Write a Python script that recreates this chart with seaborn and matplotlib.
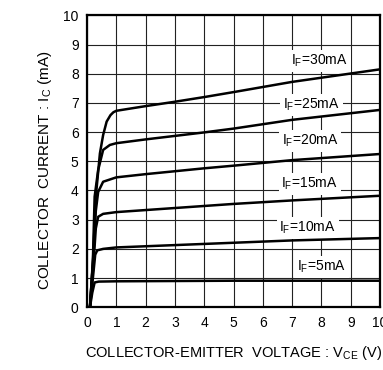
import numpy as np
import pandas as pd
import matplotlib
matplotlib.use("Agg")
import matplotlib.pyplot as plt
import seaborn as sns

# Output characteristics: collector current vs. collector-emitter voltage
# for several forward currents.
vce_5 = [0.10, 0.18, 0.26, 0.40, 1.0, 3.0, 5.0, 7.0, 10.0]
ic_5 = [0.00, 0.50, 0.85, 0.88, 0.89, 0.90, 0.91, 0.91, 0.91]

vce_10 = [0.10, 0.20, 0.28, 0.35, 0.55, 1.0, 2.0, 3.0, 4.0, 5.0, 7.0, 10.0]
ic_10 = [0.00, 1.00, 1.80, 1.95, 2.00, 2.05, 2.09, 2.13, 2.17, 2.21, 2.29, 2.37]

vce_15 = [0.10, 0.22, 0.30, 0.38, 0.55, 1.0, 2.0, 3.0, 4.0, 5.0, 7.0, 10.0]
ic_15 = [0.00, 1.50, 2.70, 3.10, 3.20, 3.26, 3.33, 3.40, 3.47, 3.54, 3.66, 3.82]

vce_20 = [0.10, 0.22, 0.30, 0.38, 0.55, 1.0, 2.0, 3.0, 4.0, 5.0, 7.0, 10.0]
ic_20 = [0.00, 1.80, 3.30, 3.95, 4.30, 4.45, 4.56, 4.66, 4.76, 4.85, 5.04, 5.25]

vce_25 = [0.10, 0.20, 0.26, 0.38, 0.55, 0.78, 1.0, 2.0, 3.0, 4.0, 5.0, 7.0, 10.0]
ic_25 = [0.00, 1.60, 3.79, 4.70, 5.39, 5.56, 5.62, 5.75, 5.87, 5.99, 6.12, 6.42, 6.76]

vce_30 = [0.10, 0.20, 0.30, 0.44, 0.55, 0.67, 0.80, 0.90, 1.0, 2.0, 3.0, 4.0, 5.0, 7.0, 10.0]
ic_30 = [0.00, 1.50, 3.79, 5.27, 5.90, 6.36, 6.58, 6.68, 6.73, 6.89, 7.04, 7.20, 7.37, 7.72, 8.15]

if_labels = ["5mA", "10mA", "15mA", "20mA", "25mA", "30mA"]
label_x = [8.0, 7.53, 7.6, 7.62, 7.66, 7.94]
label_y = [1.37, 2.73, 4.22, 5.69, 6.93, 8.43]

series = [(vce_5, ic_5), (vce_10, ic_10), (vce_15, ic_15),
          (vce_20, ic_20), (vce_25, ic_25), (vce_30, ic_30)]
frames = []
for name, (v, i) in zip(if_labels, series):
    frames.append(pd.DataFrame({"Vce": v, "Ic": i, "IF": name}))
df = pd.concat(frames, ignore_index=True)

sns.set_theme(style="white")
plt.rcParams["font.family"] = ["Liberation Sans", "DejaVu Sans"]
plt.rcParams["mathtext.fontset"] = "custom"
plt.rcParams["mathtext.rm"] = "Liberation Sans"

fig = plt.figure(figsize=(3.83, 3.70), dpi=100)
ax = fig.add_axes([0.2272, 0.1695, 0.7650, 0.7891])

sns.lineplot(data=df, x="Vce", y="Ic", hue="IF",
             palette={n: "black" for n in if_labels},
             units="IF", estimator=None, sort=False,
             linewidth=1.8, legend=False, ax=ax, zorder=4)

ax.set_xlim(0, 10)
ax.set_ylim(0, 10)
ax.set_xticks(range(0, 11))
ax.set_yticks(range(0, 11))
ax.grid(True, color="#222222", linewidth=0.8)
ax.set_axisbelow(True)
for s in ax.spines.values():
    s.set_visible(True)
    s.set_color("black")
    s.set_linewidth(1.6)
ax.tick_params(axis="both", length=0, pad=6, labelsize=10, colors="black")

for name, x, y in zip(if_labels, label_x, label_y):
    ax.text(x, y, r"I$_\mathregular{F}$=" + name, ha="center", va="center",
            fontsize=10, color="black", zorder=3,
            bbox=dict(boxstyle="square,pad=0.2", facecolor="white",
                      edgecolor="none"))

ax.set_xlabel(r"COLLECTOR-EMITTER  VOLTAGE : V$_\mathregular{CE}$ (V)",
              fontsize=10.5, color="black", labelpad=10)
ax.set_ylabel(r"COLLECTOR  CURRENT : I$_\mathregular{C}$ (mA)",
              fontsize=11, color="black")
ax.yaxis.set_label_coords(-0.113, 0.47)

fig.savefig("out.png", dpi=100)
